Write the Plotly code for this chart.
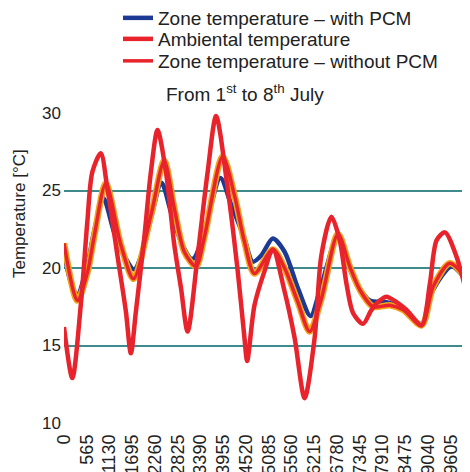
import plotly.graph_objects as go

# time in minutes from 1st July 00:00
amb_x = [0, 207, 416, 580, 704, 913, 1078, 1327, 1536, 1660, 1785, 1991, 2158, 2322, 2531, 2738, 2905, 3069,
         3318, 3567, 3776, 4065, 4313, 4480, 4547, 4729, 4978, 5185, 5476, 5725, 5974, 6223, 6389, 6638,
         6845, 7012, 7176, 7425, 7634, 7840, 8007, 8256, 8505, 8878, 9085, 9252, 9458, 9749, 9998, 10080]
amb_y = [16.2, 12.9, 17.6, 23.0, 26.2, 27.4, 25.1, 20.8, 17.2, 14.5, 17.2, 21.9, 26.2, 28.9, 26.2, 21.5, 18.7, 15.9,
         20.8, 26.2, 29.8, 25.1, 19.8, 15.5, 14.0, 17.6, 19.8, 21.2, 18.5, 15.5, 11.6, 15.5, 20.8, 23.3,
         21.8, 19.0, 17.1, 16.4, 17.3, 17.9, 18.15, 17.8, 17.3, 16.3, 19.0, 21.8, 22.3, 20.7, 18.4, 17.8]

pcm_x = [0, 167, 331, 580, 747, 978, 1245, 1493, 1742, 1949, 2158, 2422, 2656, 2905, 3154, 3236, 3485, 3883,
         4149, 4480, 4687, 4896, 5185, 5476, 5807, 6123, 6347, 6802, 7012, 7261, 7592, 8007, 8338, 8878,
         9167, 9625, 9998, 10080]
pcm_y = [20.95, 19.1, 18.3, 20.2, 22.35, 24.5, 22.3, 20.8, 19.9, 21.05, 23.2, 25.5, 23.6, 21.7, 20.6, 20.65, 22.35, 25.8,
         24.1, 21.9, 20.4, 20.8, 21.9, 21.05, 18.7, 16.9, 18.5, 22.1, 20.5, 19.0, 17.9, 17.8, 17.5, 16.4,
         18.6, 20.1, 19.2, 18.9]

nopcm_x = [0, 331, 580, 747, 1038, 1411, 1725, 2158, 2489, 2738, 2987, 3278, 3485, 3940, 4231, 4480, 4729,
           5185, 5476, 5807, 6098, 6389, 6802, 7094, 7343, 7674, 8089, 8421, 8878, 9167, 9583, 9998, 10080]
nopcm_y = [21.6, 17.9, 19.7, 22.0, 25.45, 21.5, 19.3, 23.4, 26.9, 23.85, 21.05, 20.1, 22.0, 27.2, 24.7, 21.7, 19.65,
           21.2, 20.0, 17.8, 15.9, 18.0, 22.2, 20.1, 18.6, 17.5, 17.6, 17.3, 16.3, 18.8, 20.3, 19.3, 19.0]

x_ticks = [0, 565, 1130, 1695, 2260, 2825, 3390, 3955, 4520, 5085, 5650, 6215, 6780, 7345, 7910, 8475, 9040, 9605]
x_tick_labels = ["0", "565", "1130", "1695", "2260", "2825", "3390", "3955", "4520", "5085", "5560", "6215",
                 "6780", "7345", "7910", "8475", "9040", "9605"]
y_ticks = [10, 15, 20, 25, 30]

FONT = "Liberation Sans, Arial, sans-serif"
BLUE = "#1c3a94"
RED = "#e8232b"
ORANGE = "#f5a31a"
TXT = "#222222"
W, H = 470, 472
ML, MR, MT, MB = 56, 8, 105, 57
PW, PH = W - ML - MR, H - MT - MB

fig = go.Figure()
fig.add_trace(go.Scatter(x=pcm_x, y=pcm_y, mode="lines", name="Zone temperature – with PCM", legend="legend",
                         line=dict(color=BLUE, width=4.5, shape="spline", smoothing=0.8)))
fig.add_trace(go.Scatter(x=nopcm_x, y=nopcm_y, mode="lines", showlegend=False, hoverinfo="skip",
                         line=dict(color=ORANGE, width=6.5, shape="spline", smoothing=0.8)))
fig.add_trace(go.Scatter(x=nopcm_x, y=nopcm_y, mode="lines", name="Zone temperature – without PCM", legend="legend3",
                         line=dict(color=RED, width=3.5, shape="spline", smoothing=0.8)))
fig.add_trace(go.Scatter(x=amb_x, y=amb_y, mode="lines", name="Ambiental temperature", legend="legend2",
                         line=dict(color=RED, width=4.5, shape="spline", smoothing=0.8)))


def leg(ypx):
    return dict(x=110 / W, y=1 - ypx / H, xref="container", yref="container", xanchor="left", yanchor="middle",
                bgcolor="rgba(0,0,0,0)", font=dict(size=19, family=FONT, color=TXT))


def px_x(v):
    return (v - ML) / PW


def px_y(v):
    return (H - MB - v) / PH


fig.update_layout(
    width=W, height=H,
    margin=dict(l=ML, r=MR, t=MT, b=MB, autoexpand=False),
    paper_bgcolor="white", plot_bgcolor="white",
    font=dict(family=FONT, color=TXT, size=17),
    showlegend=True,
    legend=leg(10), legend2=leg(31), legend3=leg(53),
    xaxis=dict(range=[0, 10080], tickvals=x_ticks, ticktext=x_tick_labels, tickangle=-90,
               showgrid=False, zeroline=False, showline=False, tickfont=dict(size=18),
               ticklabelstandoff=7, automargin=False),
    yaxis=dict(range=[10, 30], tickvals=y_ticks, showgrid=True, gridcolor="#3f8a8c", gridwidth=2,
               zeroline=False, showline=False, tickfont=dict(size=17), ticklabelstandoff=2, automargin=False),
    annotations=[
        dict(text="From 1<sup>st</sup> to 8<sup>th</sup> July", xref="paper", yref="paper",
             x=px_x(237), y=px_y(85), xanchor="center", yanchor="middle",
             showarrow=False, font=dict(size=19, family=FONT, color=TXT)),
        dict(text="Temperature [°C]", xref="paper", yref="paper", x=px_x(11), y=px_y(206),
             xanchor="center", yanchor="middle", textangle=-90, showarrow=False,
             font=dict(size=17, family=FONT, color=TXT)),
    ],
)

fig.write_html("out.html")
